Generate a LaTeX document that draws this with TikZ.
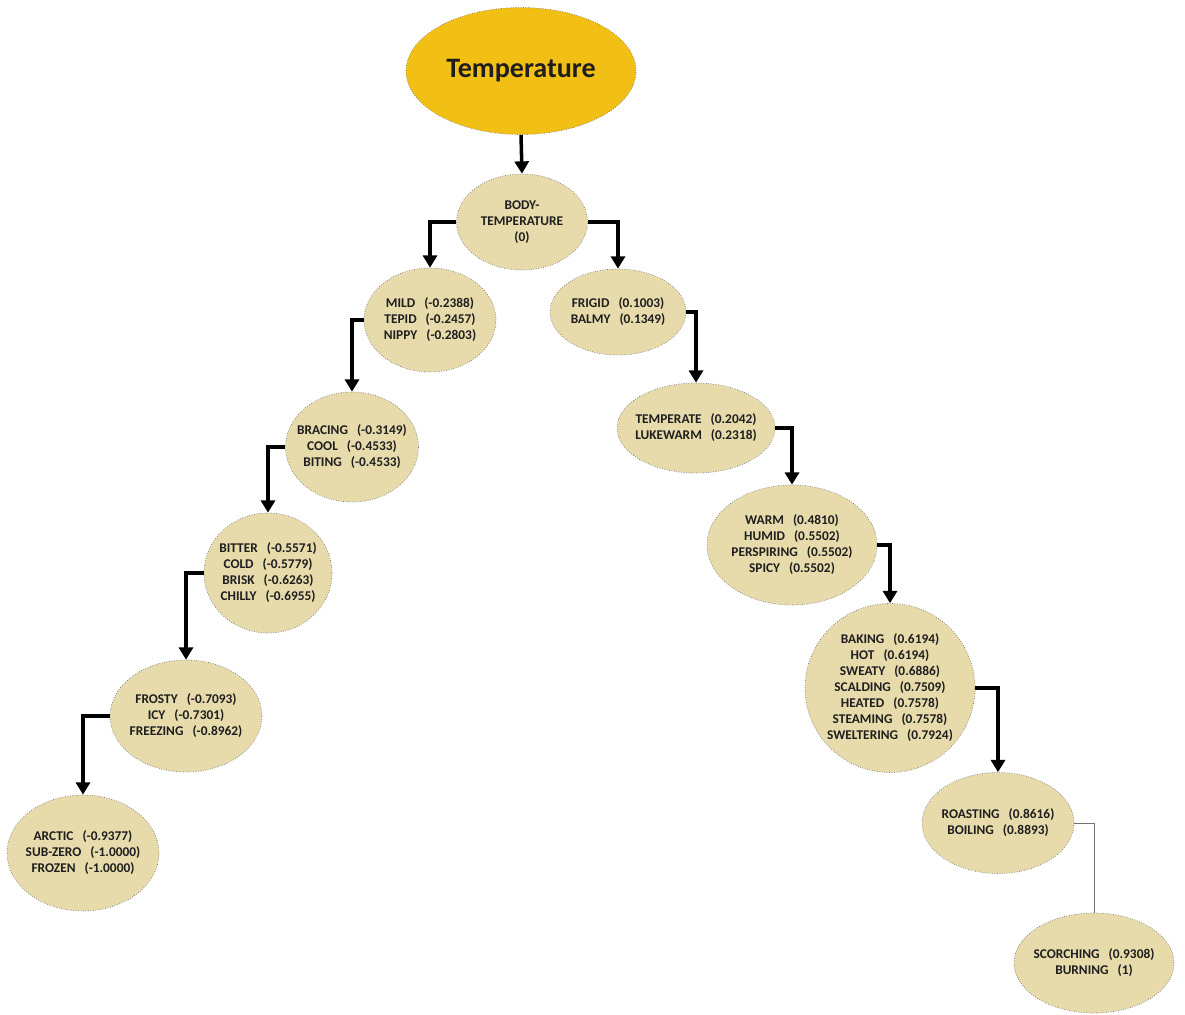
\documentclass[tikz,border=0pt]{standalone}
\usepackage{fontspec}
\setmainfont{Carlito}
\usetikzlibrary{shapes.geometric,arrows.meta}

\definecolor{gold}{RGB}{242,192,20}
\definecolor{sand}{RGB}{231,219,172}
\definecolor{ink}{RGB}{30,30,30}

\begin{document}
\begin{tikzpicture}[x=0.02cm, y=-0.02cm,
    main node/.style={ellipse, draw=black!55, densely dotted, fill=gold, text=ink, font=\bfseries\fontsize{16}{18}\selectfont},
    word node/.style={ellipse, draw=black!55, densely dotted, fill=sand, text=ink, inner sep=-2mm, align=center, font=\bfseries\fontsize{7.6}{9.1}\selectfont},
    link/.style={solid, line width=2pt, -{Triangle[width=8pt,length=7pt]}}]
        \useasboundingbox (0,0) rectangle (1185,1014);

          \node[main node, minimum width=4.6cm, minimum height=2.54cm] (1) at (521,71) {Temperature};
          \node[word node, minimum width=2.62cm, minimum height=1.92cm] (2) at (522,222) {BODY-\\TEMPERATURE\\(0)};

          % cold side, stepping down to the left
          \node[word node, minimum width=2.64cm, minimum height=2.08cm] (3) at (430,320) {MILD~~~(-0.2388)\\TEPID~~~(-0.2457)\\NIPPY~~~(-0.2803)};
          \node[word node, minimum width=2.66cm, minimum height=2.2cm] (4) at (352,447) {BRACING~~~(-0.3149)\\COOL~~~(-0.4533)\\BITING~~~(-0.4533)};
          \node[word node, minimum width=2.56cm, minimum height=2.4cm] (5) at (268,573) {BITTER~~~(-0.5571)\\COLD~~~(-0.5779)\\BRISK~~~(-0.6263)\\CHILLY~~~(-0.6955)};
          \node[word node, minimum width=3.04cm, minimum height=2.24cm] (6) at (186,716) {FROSTY~~~(-0.7093)\\ICY~~~(-0.7301)\\FREEZING~~~(-0.8962)};
          \node[word node, minimum width=3.04cm, minimum height=2.32cm] (7) at (83,853) {ARCTIC~~~(-0.9377)\\SUB-ZERO~~~(-1.0000)\\FROZEN~~~(-1.0000)};

          % warm side, stepping down to the right
          \node[word node, minimum width=2.72cm, minimum height=1.72cm] (8) at (618,312) {FRIGID~~~(0.1003)\\BALMY~~~(0.1349)};
          \node[word node, minimum width=3.16cm, minimum height=1.8cm] (9) at (696,428) {TEMPERATE~~~(0.2042)\\LUKEWARM~~~(0.2318)};
          \node[word node, minimum width=3.4cm, minimum height=2.4cm] (10) at (792,545) {WARM~~~(0.4810)\\HUMID~~~(0.5502)\\PERSPIRING~~~(0.5502)\\SPICY~~~(0.5502)};
          \node[word node, minimum width=3.4cm, minimum height=3.38cm] (11) at (890,688) {BAKING~~~(0.6194)\\HOT~~~(0.6194)\\SWEATY~~~(0.6886)\\SCALDING~~~(0.7509)\\HEATED~~~(0.7578)\\STEAMING~~~(0.7578)\\SWELTERING~~~(0.7924)};
          \node[word node, minimum width=3.04cm, minimum height=2.02cm] (12) at (998,823) {ROASTING~~~(0.8616)\\BOILING~~~(0.8893)};
          \node[word node, minimum width=3.2cm, minimum height=2cm] (13) at (1094,963) {SCORCHING~~~(0.9308)\\BURNING~~~(1)};

          \draw[link] (1.south) -- (2.north);
          \draw[link] (2.west) -| (3.north);
          \draw[link] (3.west) -| (4.north);
          \draw[link] (4.west) -| (5.north);
          \draw[link] (5.west) -| (6.north);
          \draw[link] (6.west) -| (7.north);
          \draw[link] (2.east) -| (8.north);
          \draw[link] (8.east) -| (9.north);
          \draw[link] (9.east) -| (10.north);
          \draw[link] (10.east) -| (11.north);
          \draw[link] (11.east) -| (12.north);
          \draw[black!55, line width=0.5pt] (12.east) -| (13.north);

        \end{tikzpicture}
\end{document}
